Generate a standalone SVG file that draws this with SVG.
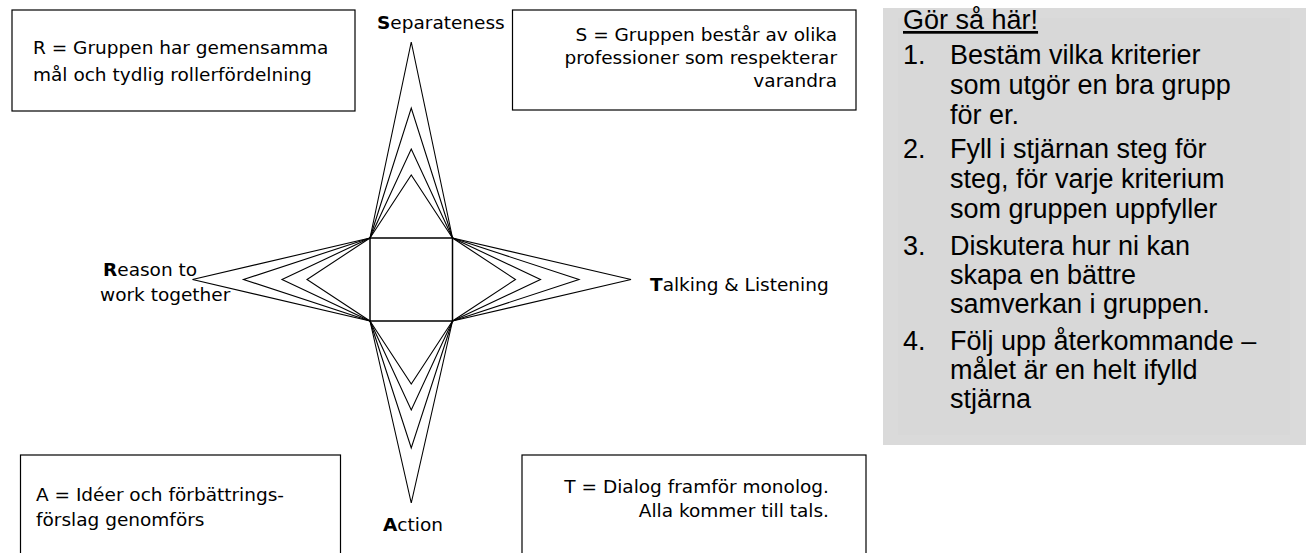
<svg xmlns="http://www.w3.org/2000/svg" width="1309" height="553" viewBox="0 0 1309 553">
<style>
.box{fill:#fff;stroke:#000;stroke-width:1.2}
.cs{font-family:"DejaVu Sans",sans-serif;font-size:18.5px;fill:#000}
.b{font-weight:bold}
.spike{fill:none;stroke:#000;stroke-width:1.1;stroke-linejoin:miter}
.sq{fill:none;stroke:#000;stroke-width:1.5}
.ar{font-family:"Liberation Sans",Arial,sans-serif;font-size:27px;fill:#000}
</style>
<rect width="1309" height="553" fill="#fff"/>

<g id="panel">
<rect x="883" y="8" width="423" height="437" fill="#dadada"/>
<rect x="898" y="18" width="392" height="417" fill="#d8d8d8"/>
<text class="ar" x="903" y="29" text-decoration="underline">Gör så här!</text>
<text class="ar" x="903" y="64">1.</text>
<text class="ar" x="950" y="64">Bestäm vilka kriterier</text>
<text class="ar" x="950" y="94">som utgör en bra grupp</text>
<text class="ar" x="950" y="124">för er.</text>
<text class="ar" x="903" y="158">2.</text>
<text class="ar" x="950" y="158">Fyll i stjärnan steg för</text>
<text class="ar" x="950" y="188">steg, för varje kriterium</text>
<text class="ar" x="950" y="218">som gruppen uppfyller</text>
<text class="ar" x="903" y="255">3.</text>
<text class="ar" x="950" y="255">Diskutera hur ni kan</text>
<text class="ar" x="950" y="284">skapa en bättre</text>
<text class="ar" x="950" y="313">samverkan i gruppen.</text>
<text class="ar" x="903" y="350">4.</text>
<text class="ar" x="950" y="350">Följ upp återkommande –</text>
<text class="ar" x="950" y="379">målet är en helt ifylld</text>
<text class="ar" x="950" y="408">stjärna</text>
</g>

<g id="box-R">
<rect class="box" x="12" y="10" width="343" height="101"/>
<text class="cs" x="33" y="54">R = Gruppen har gemensamma</text>
<text class="cs" x="33" y="81">mål och tydlig rollerfördelning</text>
</g>

<g id="box-S">
<rect class="box" x="512.5" y="10" width="343.5" height="100"/>
<text class="cs" x="837" y="41" text-anchor="end">S = Gruppen består av olika</text>
<text class="cs" x="837" y="64" text-anchor="end">professioner som respekterar</text>
<text class="cs" x="837" y="87" text-anchor="end">varandra</text>
</g>

<g id="box-A">
<rect class="box" x="20.5" y="455" width="320" height="110"/>
<text class="cs" x="36" y="501">A = Idéer och förbättrings-</text>
<text class="cs" x="36" y="526">förslag genomförs</text>
</g>

<g id="box-T">
<rect class="box" x="522" y="455" width="344" height="110"/>
<text class="cs" x="829" y="493" text-anchor="end">T = Dialog framför monolog.</text>
<text class="cs" x="829" y="517" text-anchor="end">Alla kommer till tals.</text>
</g>

<g id="label-S"><text class="cs" x="377" y="29"><tspan class="b">S</tspan>eparateness</text></g>
<g id="label-R"><text class="cs" x="103" y="276"><tspan class="b">R</tspan>eason to</text>
<text class="cs" x="100" y="301">work together</text></g>
<g id="label-T"><text class="cs" x="650" y="291"><tspan class="b">T</tspan>alking &amp; Listening</text></g>
<g id="label-A"><text class="cs" x="383" y="531"><tspan class="b">A</tspan>ction</text></g>

<g id="star">
<rect class="sq" x="370" y="238" width="82.5" height="83"/>
<polyline class="spike" points="370,238 411.25,175 452.5,238"/>
<polyline class="spike" points="370,238 411.25,149 452.5,238"/>
<polyline class="spike" points="370,238 411.25,108 452.5,238"/>
<polyline class="spike" points="370,238 411.25,42 452.5,238"/>
<polyline class="spike" points="370,321 411.25,384 452.5,321"/>
<polyline class="spike" points="370,321 411.25,410 452.5,321"/>
<polyline class="spike" points="370,321 411.25,448 452.5,321"/>
<polyline class="spike" points="370,321 411.25,503 452.5,321"/>
<polyline class="spike" points="370,238 307,279.5 370,321"/>
<polyline class="spike" points="370,238 282,279.5 370,321"/>
<polyline class="spike" points="370,238 243.5,279.5 370,321"/>
<polyline class="spike" points="370,238 192.5,279.5 370,321"/>
<polyline class="spike" points="452.5,238 515.5,279.5 452.5,321"/>
<polyline class="spike" points="452.5,238 540.5,279.5 452.5,321"/>
<polyline class="spike" points="452.5,238 579,279.5 452.5,321"/>
<polyline class="spike" points="452.5,238 631,279.5 452.5,321"/>
</g>
</svg>
